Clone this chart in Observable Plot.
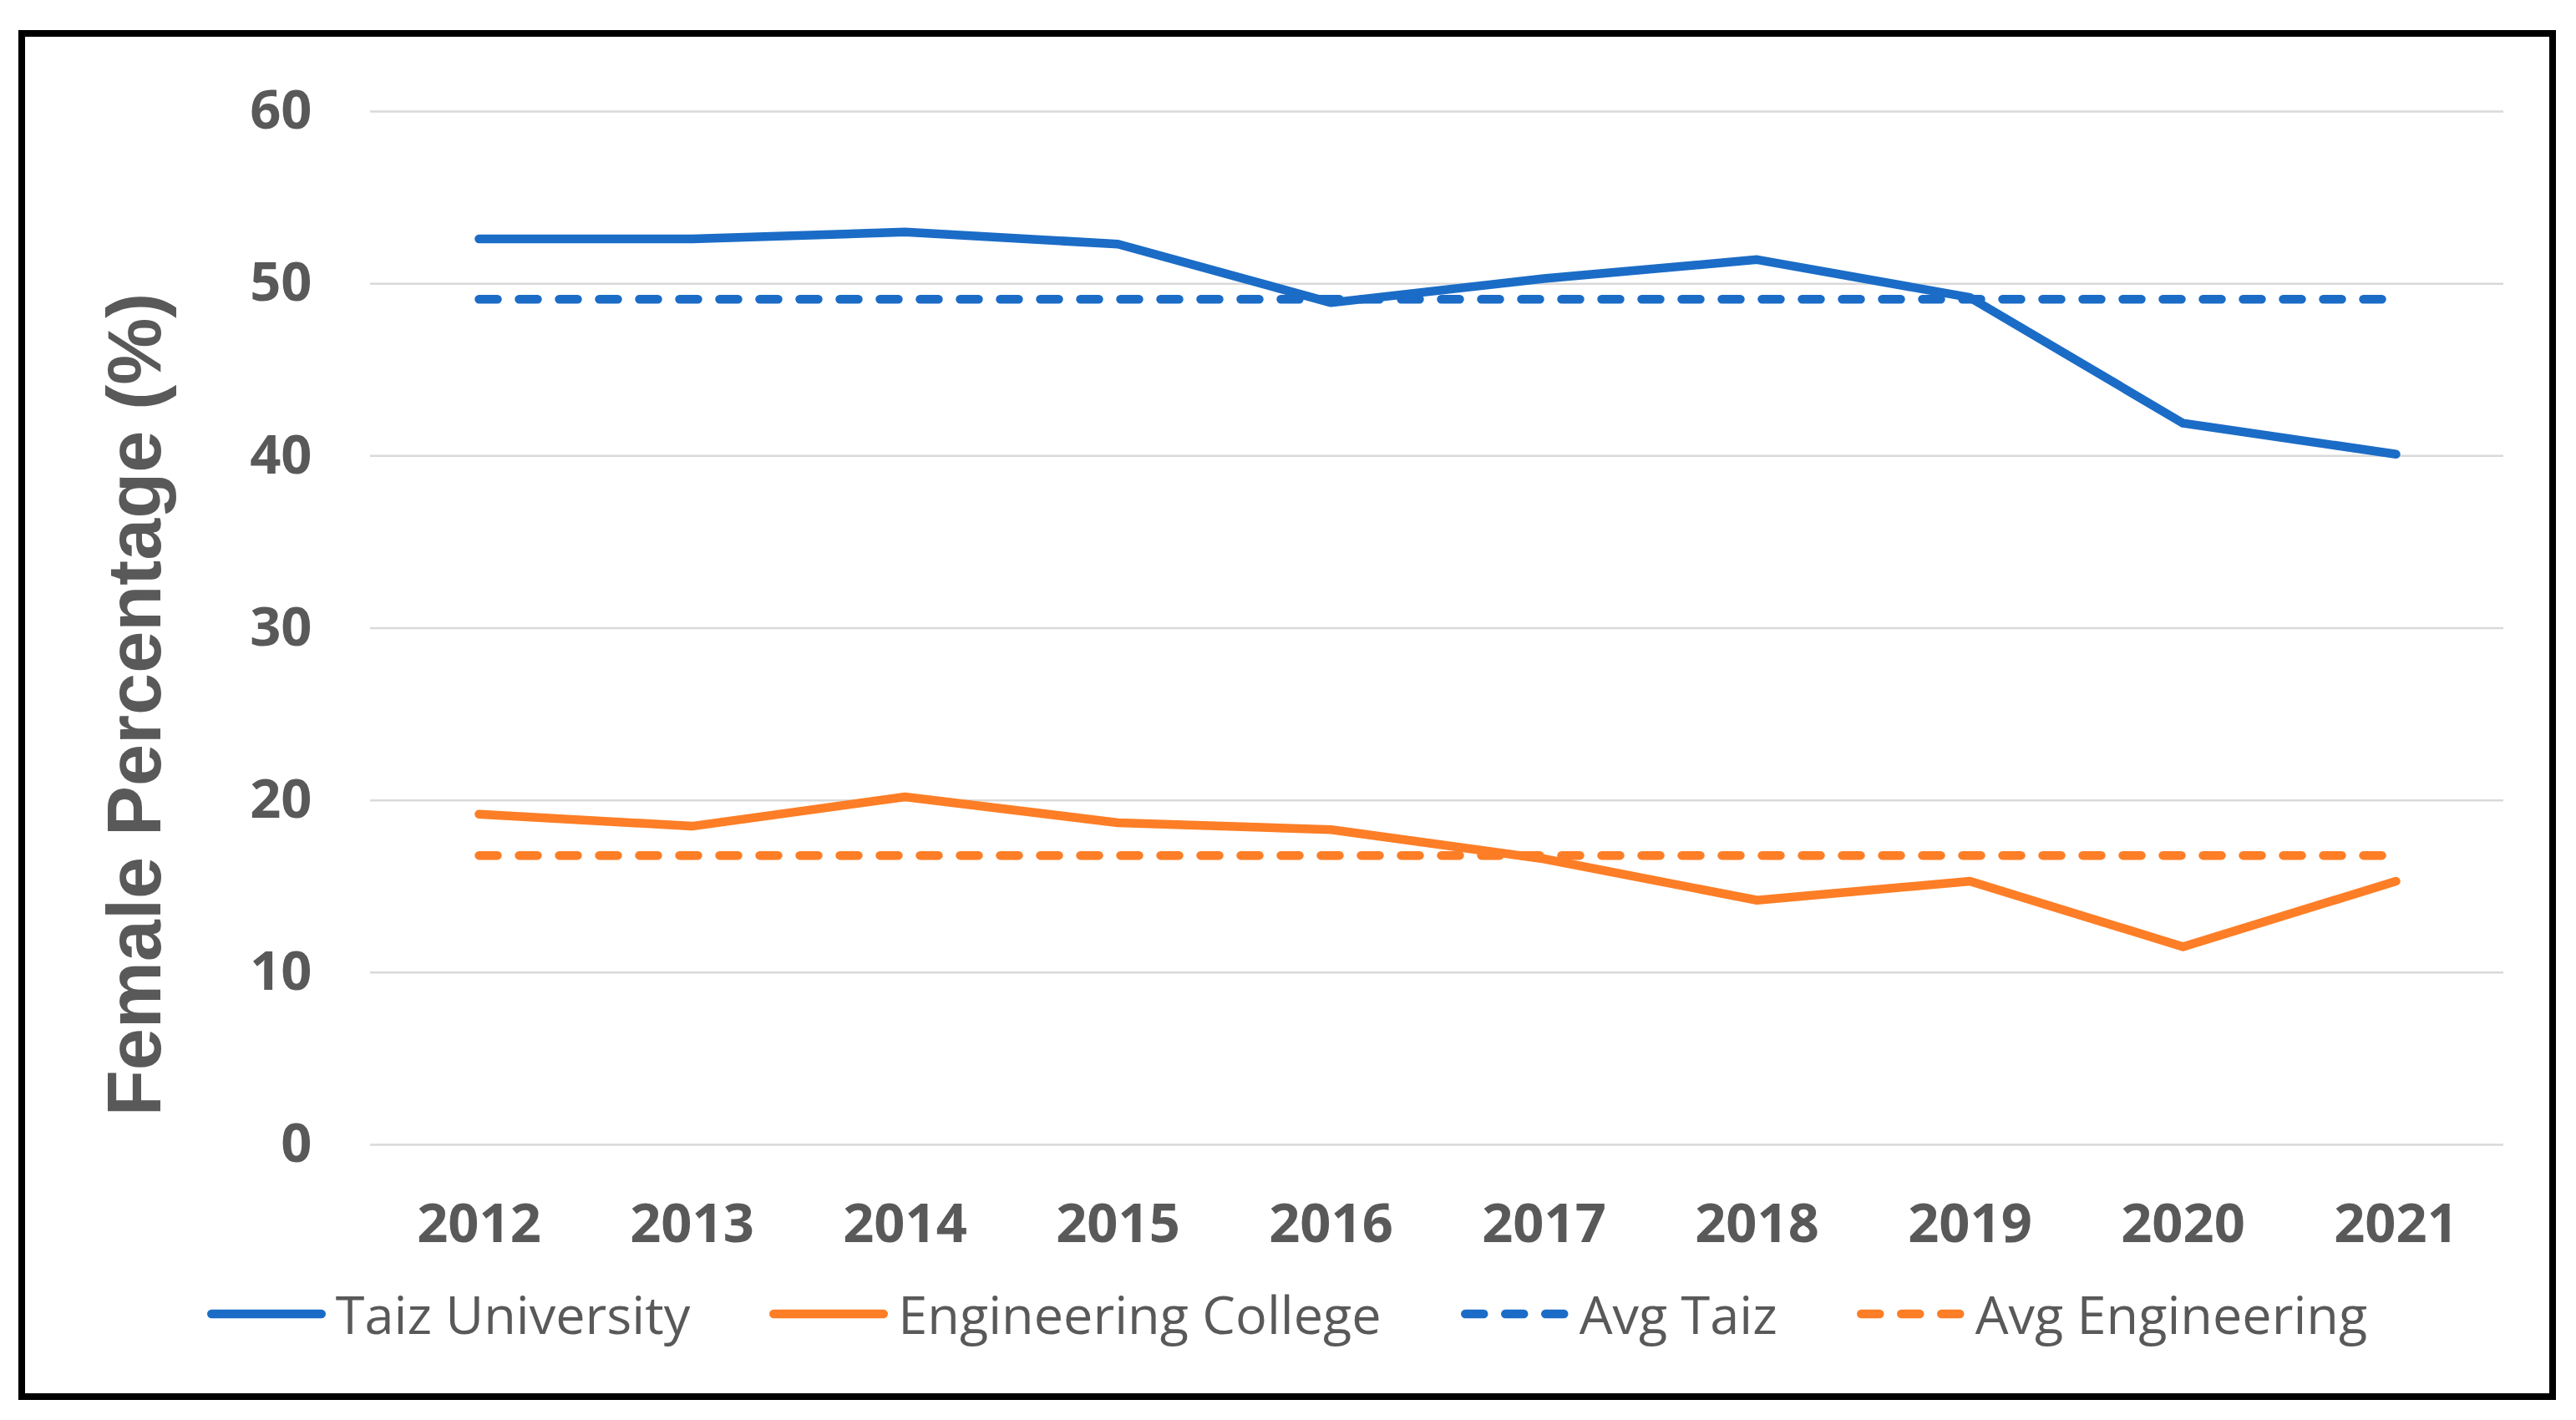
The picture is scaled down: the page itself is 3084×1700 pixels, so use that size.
<!DOCTYPE html>
<html>
<head>
<meta charset="utf-8">
<script src="https://cdn.jsdelivr.net/npm/d3@7"></script>
<script src="https://cdn.jsdelivr.net/npm/@observablehq/plot@0.6"></script>
<style>
  html, body { margin: 0; padding: 0; background: #fff; }
  #frame {
    position: absolute; left: 22px; top: 36px; width: 3038px; height: 1640px;
    border: 8px solid #000; box-sizing: border-box; background: #fff;
  }
  #chart { position: absolute; left: 0; top: 0; }
  #legend {
    position: absolute; left: 0; right: 0; top: 1486px;
    display: flex; justify-content: center; align-items: center;
    font-family: "Open Sans", sans-serif; font-size: 63px; color: #595959;
  }
  .item { display: flex; align-items: center; }
  .item + .item { margin-left: 95px; }
  .item svg { margin-right: 12px; display: block; }
</style>
</head>
<body>
<div id="frame">
  <div id="chart"></div>
  <div id="legend"></div>
</div>
<script>
// ---- data ----
const years = ["2012", "2013", "2014", "2015", "2016", "2017", "2018", "2019", "2020", "2021"];
const taizUniversity = [52.6, 52.6, 53.0, 52.3, 48.9, 50.3, 51.4, 49.2, 41.9, 40.1];
const engineeringCollege = [19.2, 18.5, 20.2, 18.7, 18.3, 16.6, 14.2, 15.3, 11.5, 15.3];
const avgTaiz = 49.1;
const avgEngineering = 16.8;
const yTicks = [0, 10, 20, 30, 40, 50, 60];
const seriesNames = ["Taiz University", "Engineering College", "Avg Taiz", "Avg Engineering"];
const seriesColors = ["#1b6cc6", "#fd7e26", "#1b6cc6", "#fd7e26"];
const seriesDashed = [false, false, true, true];
const yTitle = "Female Percentage (%)";

// ---- tables built from the arrays ----
const solidData = [
  ...years.map((year, i) => ({year, value: taizUniversity[i], series: seriesNames[0]})),
  ...years.map((year, i) => ({year, value: engineeringCollege[i], series: seriesNames[1]}))
];
const avgData = [
  ...years.map(year => ({year, value: avgTaiz, series: seriesNames[2]})),
  ...years.map(year => ({year, value: avgEngineering, series: seriesNames[3]}))
];

const LW = 10.5;
const DASH = "22,26";

const chart = Plot.plot({
  width: 3022,
  height: 1470,
  marginLeft: 413,
  marginRight: 55,
  marginTop: 89,
  marginBottom: 144,
  style: {fontFamily: "'Open Sans', sans-serif", fontSize: "65px", background: "transparent", overflow: "visible"},
  x: {type: "point", domain: years, padding: 0.5},
  y: {domain: [0, 60]},
  color: {domain: seriesNames, range: seriesColors},
  marks: [
    Plot.gridY(yTicks, {stroke: "#d9d9d9", strokeOpacity: 1, strokeWidth: 2.5}),
    Plot.axisY(yTicks, {tickSize: 0, tickPadding: 70, color: "#595959", fontWeight: "bold", fontSize: 65, label: null}),
    Plot.axisX(years, {tickSize: 0, tickPadding: 70, color: "#595959", fontWeight: "bold", fontSize: 65, label: null}),
    Plot.text([yTitle], {
      frameAnchor: "left", text: d => d, rotate: -90, dx: -252, dy: 91.5,
      lineAnchor: "bottom", textAnchor: "middle",
      fontFamily: "'Liberation Sans', Arial, sans-serif", fontWeight: "bold", fontSize: 90, fill: "#595959"
    }),
    Plot.line(avgData, {
      x: "year", y: "value", z: "series", stroke: "series",
      strokeWidth: LW, strokeDasharray: DASH, strokeLinecap: "round"
    }),
    Plot.line(solidData, {
      x: "year", y: "value", z: "series", stroke: "series",
      strokeWidth: LW, strokeLinecap: "round", strokeLinejoin: "round"
    })
  ]
});
document.getElementById("chart").appendChild(chart);

// ---- legend ----
const legend = document.getElementById("legend");
seriesNames.forEach((name, i) => {
  const item = document.createElement("div");
  item.className = "item";
  const dashed = seriesDashed[i];
  const w = dashed ? 130 : 142;
  const x1 = LW / 2, x2 = dashed ? LW / 2 + 22 + 26 + 22 + 26 + 22 : w - LW / 2;
  item.innerHTML =
    `<svg width="${w}" height="20" viewBox="0 0 ${w} 20">` +
    `<line x1="${x1}" y1="10" x2="${x2}" y2="10" stroke="${seriesColors[i]}" stroke-width="${LW}" ` +
    `stroke-linecap="round"${dashed ? ` stroke-dasharray="${DASH}"` : ""}/></svg>` +
    `<span>${name}</span>`;
  legend.appendChild(item);
});
</script>
</body>
</html>
